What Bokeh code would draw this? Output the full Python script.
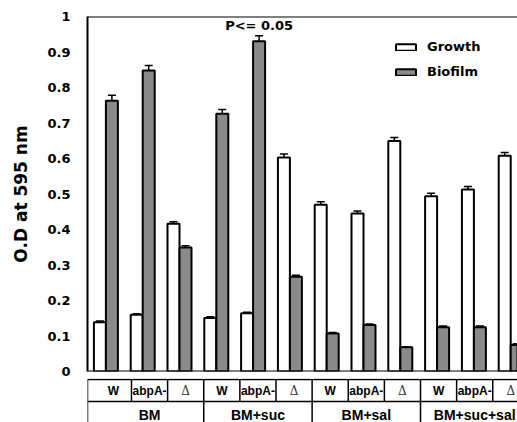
import numpy as np
from bokeh.plotting import figure
from bokeh.layouts import column
from bokeh.models import ColumnDataSource, Range1d, Span, Whisker, TeeHead, Label, FixedTicker
from bokeh.core.properties import value
from bokeh.embed import file_html
from bokeh.resources import INLINE

# ---------------- data ----------------
MEDIA = ["BM", "BM+suc", "BM+sal", "BM+suc+sal"]
STRAINS = ["W", "abpA-", "Δ"]
growth = [0.139, 0.160, 0.416, 0.151, 0.164, 0.603, 0.470, 0.445, 0.649, 0.494, 0.513, 0.608]
growth_err = [0.003, 0.003, 0.006, 0.003, 0.003, 0.010, 0.008, 0.007, 0.010, 0.008, 0.008, 0.009]
biofilm = [0.763, 0.848, 0.349, 0.726, 0.930, 0.267, 0.107, 0.131, 0.068, 0.125, 0.125, 0.075]
biofilm_err = [0.015, 0.014, 0.005, 0.012, 0.016, 0.004, 0.003, 0.003, 0.002, 0.003, 0.003, 0.003]
Y_TICKS = [0, 0.1, 0.2, 0.3, 0.4, 0.5, 0.6, 0.7, 0.8, 0.9, 1]
Y_TICK_LABELS = ["0", "0.1", "0.2", "0.3", "0.4", "0.5", "0.6", "0.7", "0.8", "0.9", "1"]
Y_TITLE = "O.D at 595 nm"
SIG_TEXT = "P<= 0.05"
SIG_INDEX = 4

# ---------------- layout ----------------
PITCH = 36.8          # px per category
FIG_W = 517
LEFT_B = 87
FRAME_W = FIG_W - LEFT_B
FRAME_H = 355
TOP_B, BOT_B = 16, 7
BW = 0.326            # bar width (category units)
GRAY = "#8a8a8a"
FONT = "DejaVu Sans"

n = len(MEDIA) * len(STRAINS)
centers = np.arange(n) + 0.5
xg = centers - BW / 2
xb = centers + BW / 2
g = np.array(growth)
b = np.array(biofilm)
ge = np.array(growth_err)
be = np.array(biofilm_err)

src = ColumnDataSource(dict(
    xg=xg, xb=xb, g=g, b=b,
    gu=g + ge, gl=g - ge, bu=b + be, bl=b - be,
))

p = figure(width=FIG_W, height=TOP_B + FRAME_H + BOT_B,
           x_range=Range1d(0, FRAME_W / PITCH), y_range=Range1d(0, 1),
           x_axis_type=None,
           output_backend="svg", toolbar_location=None,
           min_border_left=LEFT_B, min_border_right=0,
           min_border_top=TOP_B, min_border_bottom=BOT_B)
p.outline_line_color = None
p.ygrid.grid_line_color = None
p.background_fill_color = "white"

p.yaxis.ticker = FixedTicker(ticks=Y_TICKS)
p.yaxis.major_label_overrides = {t: l for t, l in zip(Y_TICKS, Y_TICK_LABELS)}
p.yaxis.major_tick_line_color = None
p.yaxis.minor_tick_line_color = None
p.yaxis.major_label_standoff = 11
p.yaxis.axis_line_width = 2
p.yaxis.axis_line_color = "black"
p.yaxis.major_label_text_font = FONT
p.yaxis.major_label_text_font_style = "bold"
p.yaxis.major_label_text_font_size = "13px"
p.yaxis.major_label_text_color = "black"
p.yaxis.axis_label = Y_TITLE
p.yaxis.axis_label_text_font = FONT
p.yaxis.axis_label_text_font_style = "bold"
p.yaxis.axis_label_text_font_size = "17px"
p.yaxis.axis_label_text_color = "black"
p.yaxis.axis_label_standoff = 13

p.vbar(x="xg", top="g", bottom=0, width=BW, source=src,
       fill_color="white", line_color="black", line_width=2, legend_label="Growth")
p.vbar(x="xb", top="b", bottom=0, width=BW, source=src,
       fill_color=GRAY, line_color="black", line_width=2, legend_label="Biofilm")

for base, up, lo in (("xg", "gu", "gl"), ("xb", "bu", "bl")):
    w = Whisker(source=src, base=base, upper=up, lower=lo, dimension="height",
                line_color="black", line_width=1.5,
                upper_head=TeeHead(size=8, line_color="black", line_width=1.5),
                lower_head=TeeHead(size=8, line_color="black", line_width=1.5))
    p.add_layout(w)

p.add_layout(Span(location=1, dimension="width", line_color="black", line_width=2))
p.add_layout(Span(location=0, dimension="width", line_color="black", line_width=2))

p.add_layout(Label(x=xb[SIG_INDEX], y=0.975, text=SIG_TEXT, text_align="center",
                   text_baseline="middle", text_font=FONT, text_font_style="bold",
                   text_font_size="13px", text_color="black"))

lg = p.legend[0]
lg.location = (306, 292)
lg.border_line_color = None
lg.background_fill_alpha = 0
lg.padding = 0
lg.margin = 0
lg.spacing = 10
lg.glyph_width = 25
lg.glyph_height = 8
lg.label_height = 14
lg.label_standoff = 9
lg.label_text_font = FONT
lg.label_text_font_style = "bold"
lg.label_text_font_size = "13px"
lg.label_text_color = "black"

# ---------------- data table below the axis ----------------
TH = 422 - (TOP_B + FRAME_H + BOT_B)
p2 = figure(width=FIG_W, height=TH,
            x_range=Range1d(-8 / PITCH, FRAME_W / PITCH), y_range=Range1d(TH, 0),
            x_axis_type=None, y_axis_type=None,
            output_backend="svg", toolbar_location=None,
            min_border_left=LEFT_B - 8, min_border_right=0, min_border_top=0, min_border_bottom=0)
p2.outline_line_color = None
p2.grid.grid_line_color = None

x_left = -8 / PITCH
x_right = FRAME_W / PITCH + 1
ROW1_TOP, ROW1_BOT = 1, 23
p2.segment(x0=[x_left, x_left], x1=[x_right, x_right], y0=[ROW1_TOP, ROW1_BOT], y1=[ROW1_TOP, ROW1_BOT],
           line_color="black", line_width=1.5)
vx = [x_left] + list(range(1, n + 1))
vy1 = [TH] + [TH if k % len(STRAINS) == 0 else ROW1_BOT for k in range(1, n + 1)]
p2.segment(x0=vx, x1=vx, y0=[ROW1_TOP] * len(vx), y1=vy1, line_color="black", line_width=1.5)

sub_labels = [STRAINS[i % len(STRAINS)] for i in range(n)]
norm_idx = [i for i in range(n) if sub_labels[i] != "Δ"]
delta_idx = [i for i in range(n) if sub_labels[i] == "Δ"]
p2.text(x=[centers[i] for i in norm_idx], y=[12] * len(norm_idx), text=[sub_labels[i] for i in norm_idx],
        text_align="center", text_baseline="middle", text_font=value("Liberation Sans"),
        text_font_style="bold", text_font_size="12px", text_color="black")
p2.text(x=[centers[i] for i in delta_idx], y=[12] * len(delta_idx), text=[sub_labels[i] for i in delta_idx],
        text_align="center", text_baseline="middle", text_font=value("DejaVu Serif"),
        text_font_size="12px", text_color="#333333")
group_centers = [len(STRAINS) * k + len(STRAINS) / 2 for k in range(len(MEDIA))]
p2.text(x=group_centers, y=[36] * len(MEDIA), text=MEDIA,
        text_align="center", text_baseline="middle", text_font=value("Liberation Sans"),
        text_font_style="bold", text_font_size="14px", text_color="black")

layout = column(p, p2)
open("out.html", "w").write(file_html(layout, INLINE))
